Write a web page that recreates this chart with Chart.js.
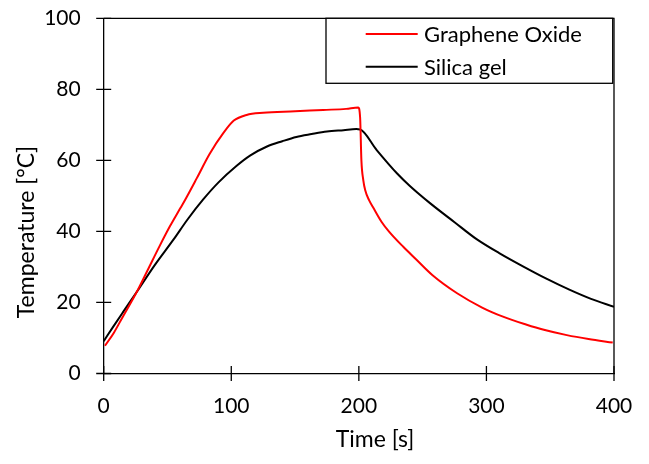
<!DOCTYPE html>
<html>
<head>
<meta charset="utf-8">
<script src="https://cdn.jsdelivr.net/npm/chart.js@4/dist/chart.umd.min.js"></script>
<style>
  html, body { margin: 0; padding: 0; background: #fff; }
  #wrap { width: 649px; height: 464px; }
</style>
</head>
<body>
<div id="wrap"><canvas id="c" width="649" height="464"></canvas></div>
<script>
// ---- Data ----
const seriesNames = ["Graphene Oxide", "Silica gel"];
const xTicks = [0, 100, 200, 300, 400];
const yTicks = [0, 20, 40, 60, 80, 100];

const timeGO = [1, 8, 15, 26, 35, 44, 52, 60, 64, 73, 83, 94, 102, 112, 125, 150, 172, 190, 199.5, 201, 202, 203.5, 205, 208, 211, 218, 224, 235, 245, 258, 277, 297, 313, 331, 345, 363, 380, 399];
const tempGO = [7.8, 11.5, 16.0, 23.0, 29.5, 36.0, 41.5, 46.5, 49.0, 55.0, 61.8, 67.8, 71.2, 72.8, 73.4, 73.8, 74.2, 74.5, 74.9, 72, 60, 54.4, 51.6, 48.8, 46.9, 42.6, 39.8, 35.6, 32.1, 27.6, 22.6, 18.5, 16.0, 13.8, 12.3, 10.8, 9.7, 8.7];

const timeSG = [0, 7.5, 15, 26, 40, 54.5, 66, 78, 90, 104, 115, 128, 140, 151, 163, 175, 188, 198, 201, 214, 230, 240, 256, 275, 292, 310, 329, 347, 365, 382, 400];
const tempSG = [9.1, 13.2, 17.2, 23.0, 30.5, 37.6, 43.5, 49.0, 53.8, 58.4, 61.4, 63.9, 65.4, 66.6, 67.4, 68.1, 68.5, 68.8, 68.7, 62.9, 56.3, 52.8, 47.9, 42.6, 37.9, 33.9, 30.1, 26.7, 23.6, 21.0, 18.8];

const xTitle = "Time [s]";
const yTitle = "Temperature [\u00B0C]";

const toPoints = (xs, ys) => xs.map((x, i) => ({ x: x, y: ys[i] }));

const FONT = "Lato, 'Open Sans', sans-serif";
const AXIS_COLOR = "#000";

const framePlugin = {
  id: "frame",
  afterDatasetsDraw(chart) {
    const ctx = chart.ctx;
    const a = chart.chartArea;
    const xs = chart.scales.x, ys = chart.scales.y;
    ctx.save();
    ctx.strokeStyle = AXIS_COLOR;
    ctx.lineWidth = 1.3;
    ctx.beginPath();
    ctx.moveTo(a.left, a.top); ctx.lineTo(a.right, a.top); ctx.lineTo(a.right, a.bottom);
    ctx.stroke();
    ctx.beginPath();
    xTicks.forEach(v => {
      const px = xs.getPixelForValue(v);
      ctx.moveTo(px, a.bottom - 7.5); ctx.lineTo(px, a.bottom + 7.5);
    });
    yTicks.forEach(v => {
      const py = ys.getPixelForValue(v);
      ctx.moveTo(a.left - 7.5, py); ctx.lineTo(a.left + 7.5, py);
    });
    ctx.stroke();

    // legend box
    const lx0 = 326, ly0 = a.top, lx1 = 612.7, ly1 = 83.3;
    ctx.fillStyle = "#fff";
    ctx.fillRect(lx0, ly0, lx1 - lx0, ly1 - ly0);
    ctx.strokeRect(lx0, ly0, lx1 - lx0, ly1 - ly0);
    const colors = chart.data.datasets.map(d => d.borderColor);
    const rows = [34, 66.7];
    ctx.font = "22px " + FONT;
    ctx.textBaseline = "middle";
    ctx.textAlign = "left";
    rows.forEach((ry, i) => {
      ctx.strokeStyle = colors[i];
      ctx.lineWidth = 2;
      ctx.beginPath(); ctx.moveTo(365.7, ry); ctx.lineTo(417.7, ry); ctx.stroke();
      ctx.fillStyle = "#000";
      ctx.fillText(seriesNames[i], 424, ry + 1);
    });

    // axis titles
    ctx.fillStyle = "#000";
    ctx.font = "23px " + FONT;
    ctx.textAlign = "center";
    ctx.textBaseline = "middle";
    ctx.fillText(xTitle, 375, 440);
    ctx.save();
    ctx.translate(27, 232);
    ctx.rotate(-Math.PI / 2);
    ctx.fillText(yTitle, 0, 0);
    ctx.restore();
    ctx.restore();
  }
};

new Chart(document.getElementById("c"), {
  type: "scatter",
  data: {
    datasets: [
      { label: seriesNames[0], data: toPoints(timeGO, tempGO), borderColor: "#ff0000", backgroundColor: "#ff0000",
        showLine: true, pointRadius: 0, borderWidth: 2, cubicInterpolationMode: "monotone" },
      { label: seriesNames[1], data: toPoints(timeSG, tempSG), borderColor: "#000000", backgroundColor: "#000000",
        showLine: true, pointRadius: 0, borderWidth: 2, cubicInterpolationMode: "monotone" }
    ]
  },
  options: {
    responsive: false,
    animation: false,
    devicePixelRatio: 1,
    layout: { padding: { left: 0, right: 35, top: 18.3, bottom: 0 } },
    plugins: { legend: { display: false }, tooltip: { enabled: false }, title: { display: false } },
    scales: {
      x: {
        type: "linear", min: 0, max: 400,
        afterBuildTicks: s => { s.ticks = xTicks.map(v => ({ value: v })); },
        afterFit: s => { s.height = 90.5; s.paddingLeft = 0; s.paddingRight = 0; },
        grid: { display: false, drawTicks: false },
        border: { display: true, color: AXIS_COLOR, width: 1.3 },
        ticks: { color: "#000", font: { family: FONT, size: 21 }, padding: 20, maxRotation: 0 }
      },
      y: {
        type: "linear", min: 0, max: 100,
        afterBuildTicks: s => { s.ticks = yTicks.map(v => ({ value: v })); },
        afterFit: s => { s.width = 103.7; s.paddingTop = 0; s.paddingBottom = 0; },
        grid: { display: false, drawTicks: false },
        border: { display: true, color: AXIS_COLOR, width: 1.3 },
        ticks: { color: "#000", font: { family: FONT, size: 21 }, padding: 23 }
      }
    }
  },
  plugins: [framePlugin]
});
</script>
</body>
</html>
